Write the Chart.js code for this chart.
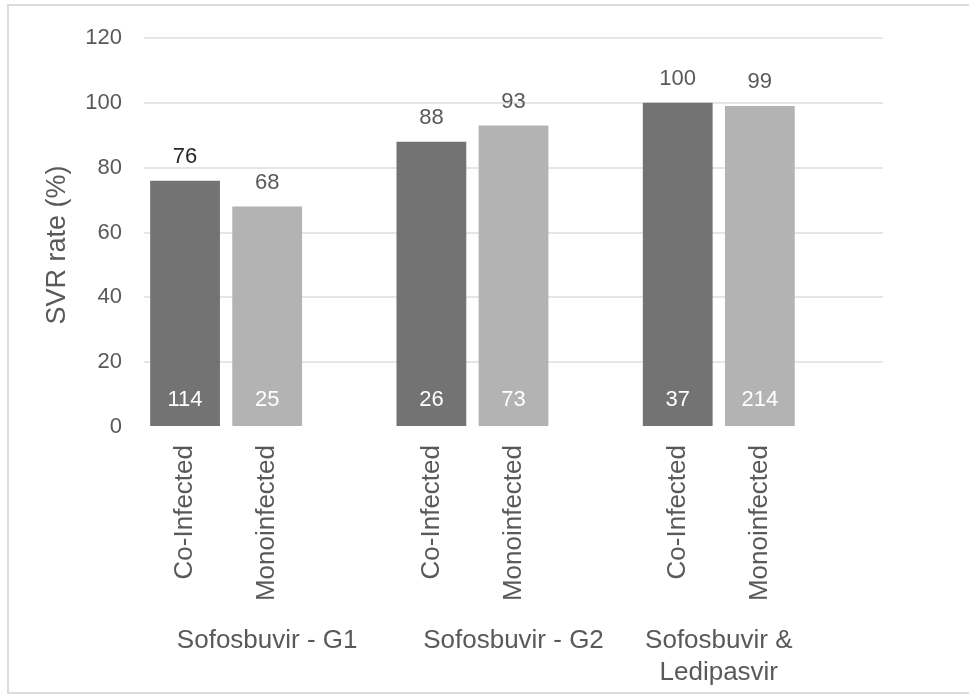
<!DOCTYPE html>
<html>
<head>
<meta charset="utf-8">
<script src="https://cdn.jsdelivr.net/npm/chart.js@4"></script>
<style>
  html, body { margin: 0; padding: 0; background: #fff; overflow: hidden; }
  #frame { position: absolute; left: 7px; top: 4px; width: 1000px; height: 686px; border: 2px solid #dcdcdc; }
  #wrap { position: absolute; left: 0; top: 0; width: 969px; height: 694px; }
</style>
</head>
<body>
<div id="frame"></div>
<div id="wrap"><canvas id="grafico"></canvas></div>
<script>
// SVR por regime e tipo de paciente
const grupos = ['Sofosbuvir - G1', 'Sofosbuvir - G2', ['Sofosbuvir &', 'Ledipasvir']];
const coortes = ['Co-Infected', 'Monoinfected'];
const taxasSVR = [76, 68, 88, 93, 100, 99];
const pacientes = [114, 25, 26, 73, 37, 214];
const ticksY = [0, 20, 40, 60, 80, 100, 120];
const tituloY = 'SVR rate (%)';

const corEscura = '#737373';
const corClara = '#b3b3b3';
const fonte = '"Liberation Sans", Arial, sans-serif';

// Cada grupo ocupa 3 posições: duas barras e um espaço vazio
const rotulos = [];
const valores = [];
const cores = [];
grupos.forEach((g, i) => {
    coortes.forEach((c, j) => {
        rotulos.push(c);
        valores.push(taxasSVR[i * 2 + j]);
        cores.push(j === 0 ? corEscura : corClara);
    });
    rotulos.push('');
    valores.push(null);
    cores.push('#fff');
});

// Escreve valores acima das barras, n na base, nomes dos grupos e título do eixo Y
const rotulosPlugin = {
    id: 'rotulos',
    afterDatasetsDraw(chart) {
        const ctx = chart.ctx;
        const meta = chart.getDatasetMeta(0);
        const x = chart.scales.x;
        const y = chart.scales.y;
        ctx.save();
        ctx.textAlign = 'center';
        let k = 0;
        meta.data.forEach((bar, idx) => {
            const v = valores[idx];
            if (v === null) return;
            ctx.font = '22px ' + fonte;
            ctx.textBaseline = 'alphabetic';
            ctx.fillStyle = k === 0 ? '#262626' : '#595959';
            ctx.fillText(String(v), bar.x, bar.y - 18);
            ctx.fillStyle = '#ffffff';
            ctx.textBaseline = 'middle';
            ctx.fillText(String(pacientes[k]), bar.x, y.getPixelForValue(0) - 27);
            k++;
        });

        ctx.font = '26px ' + fonte;
        ctx.fillStyle = '#595959';
        ctx.textBaseline = 'alphabetic';
        grupos.forEach((g, i) => {
            let cx;
            if (Array.isArray(g)) {
                cx = (x.getPixelForValue(i * 3) + x.getPixelForValue(i * 3 + 1)) / 2;
                g.forEach((linha, l) => ctx.fillText(linha, cx, 648 + l * 32));
            } else {
                cx = x.getPixelForValue(i * 3 + 1);
                ctx.fillText(g, cx, 648);
            }
        });

        ctx.translate(58, 245);
        ctx.rotate(-Math.PI / 2);
        ctx.font = '27px ' + fonte;
        ctx.textBaseline = 'middle';
        ctx.fillText(tituloY, 0, 0);
        ctx.restore();
    }
};

new Chart(document.getElementById('grafico'), {
    type: 'bar',
    data: {
        labels: rotulos,
        datasets: [{
            data: valores,
            backgroundColor: cores,
            categoryPercentage: 1,
            barPercentage: 0.85
        }]
    },
    options: {
        responsive: true,
        maintainAspectRatio: false,
        animation: false,
        layout: { padding: { left: 0, right: 86, top: 38, bottom: 0 } },
        plugins: {
            legend: { display: false },
            tooltip: { enabled: false }
        },
        scales: {
            x: {
                grid: { display: false },
                border: { display: false },
                ticks: {
                    autoSkip: false,
                    minRotation: 90,
                    maxRotation: 90,
                    padding: 10,
                    color: '#595959',
                    font: { family: fonte, size: 26 }
                },
                afterFit(scale) {
                    scale.height = 267;
                    scale.paddingLeft = 0;
                    scale.paddingRight = 0;
                }
            },
            y: {
                min: 0,
                max: 120,
                afterBuildTicks(scale) {
                    scale.ticks = ticksY.map(v => ({ value: v }));
                },
                grid: {
                    color: ctx => ctx.tick && ctx.tick.value === 0 ? 'rgba(0,0,0,0)' : '#e6e6e6',
                    lineWidth: 2,
                    drawTicks: false
                },
                border: { display: false },
                ticks: {
                    padding: 22,
                    color: '#595959',
                    font: { family: fonte, size: 22 }
                },
                afterFit(scale) {
                    scale.width = 144;
                    scale.paddingTop = 0;
                    scale.paddingBottom = 0;
                }
            }
        }
    },
    plugins: [rotulosPlugin]
});
</script>
</body>
</html>
